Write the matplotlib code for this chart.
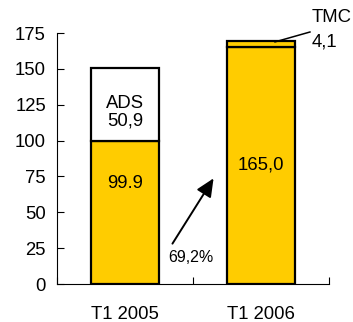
import matplotlib
matplotlib.use("Agg")
import matplotlib.pyplot as plt
from matplotlib.ticker import FixedLocator

plt.rcParams["font.family"] = ["Liberation Sans", "DejaVu Sans"]

periods = ["T1 2005", "T1 2006"]
base = [99.9, 165.0]
extra = [50.9, 4.1]
base_labels = ["99.9", "165,0"]
growth_label = "69,2%"
yellow = "#FFCC00"

fig = plt.figure(figsize=(3.53, 3.22), dpi=100)
ax = fig.add_axes([0.1615, 0.118, 0.7705, 0.7795])

x = range(len(periods))
ax.bar(x, base, width=0.5, color=yellow, edgecolor="black", linewidth=1.6, zorder=2)
ax.bar(x, extra, bottom=base, width=0.5, color=["white", yellow],
       edgecolor="black", linewidth=1.6, zorder=2)

# value labels
ax.text(0, 120, "ADS\n" + f"{extra[0]:.1f}".replace(".", ","), ha="center", va="center",
        fontsize=13.3, linespacing=1.05)
ax.text(0, 70.4, base_labels[0], ha="center", va="center", fontsize=13.3)
ax.text(1, 83, base_labels[1], ha="center", va="center", fontsize=13.3)

# callout for the small segment
ax.plot([1.103, 1.36], [168.8, 175.7], color="black", linewidth=1.1, clip_on=False, zorder=3)
ax.text(1.375, 186, "TMC", ha="left", va="center", fontsize=13.3, clip_on=False)
ax.text(1.375, 168.5, f"{extra[1]:.1f}".replace(".", ","), ha="left", va="center",
        fontsize=13.3, clip_on=False)

# growth arrow
ax.annotate("", xy=(0.662, 75.3), xytext=(0.338, 26.5),
            arrowprops=dict(arrowstyle="-|>,head_length=1.1,head_width=0.5",
                            color="black", linewidth=1.4))
ax.text(0.485, 18.8, growth_label, ha="center", va="center", fontsize=11.5)

ax.set_xlim(-0.5, 1.5)
ax.set_ylim(0, 175)
ax.set_yticks(range(0, 176, 25))
ax.set_xticks(list(x))
ax.set_xticklabels(periods)
ax.xaxis.set_minor_locator(FixedLocator([-0.5, 0.5, 1.5]))

ax.tick_params(axis="x", which="major", length=0, pad=16, labelsize=13.3)
ax.tick_params(axis="x", which="minor", direction="in", length=5, width=0.8)
ax.tick_params(axis="y", direction="in", length=5, width=0.8, pad=8, labelsize=13.3)

for side in ["top", "right"]:
    ax.spines[side].set_visible(False)
for side in ["left", "bottom"]:
    ax.spines[side].set_linewidth(0.8)

fig.savefig("out.png", dpi=100)
